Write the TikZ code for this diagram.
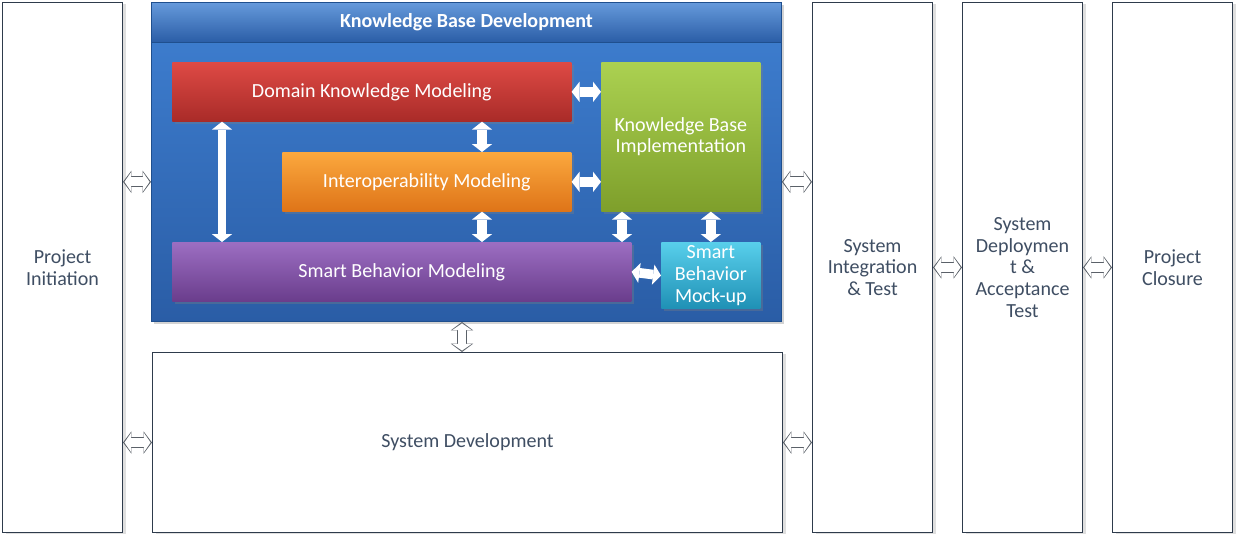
\documentclass[tikz,border=0pt]{standalone}
\usepackage{fontspec}
\setmainfont{Carlito}
\usetikzlibrary{arrows.meta,shadows}
\definecolor{ink}{HTML}{3F4E63}
\definecolor{frame}{HTML}{2E3B4C}
\definecolor{edge}{HTML}{5A6068}
\definecolor{kbblue1}{HTML}{3F80D2}
\definecolor{kbblue2}{HTML}{2A5DA6}
\definecolor{kbline}{HTML}{1F4F8E}
\definecolor{red1}{HTML}{DE4A45}
\definecolor{red2}{HTML}{A92B28}
\definecolor{orange1}{HTML}{FBA83E}
\definecolor{orange2}{HTML}{DE7418}
\definecolor{green1}{HTML}{ABD151}
\definecolor{green2}{HTML}{7E9F2B}
\definecolor{purple1}{HTML}{9C6EC2}
\definecolor{purple2}{HTML}{6A3D8C}
\definecolor{cyan1}{HTML}{58CFEB}
\definecolor{cyan2}{HTML}{1F90B5}

\tikzset{
  phase/.style={draw=frame, line width=0.6pt, fill=white, text=ink, anchor=north west,
    inner sep=2pt, drop shadow={opacity=0.25, shadow xshift=2pt, shadow yshift=-1pt}},
  task/.style={draw=none, text=white, anchor=north west, inner sep=2pt,
    drop shadow={opacity=0.35, shadow xshift=1.5pt, shadow yshift=-1.5pt}},
  blockarrow/.style={draw=white, line width=5.5pt,
    {Triangle[length=4.5pt,width=11.5pt,line width=0pt]}-{Triangle[length=4.5pt,width=11.5pt,line width=0pt]}},
  hollowarrow/.style={draw=white, line width=5pt, shorten <=0.8pt, shorten >=0.8pt,
    {Triangle[length=3.8pt,width=11pt,line width=0pt]}-{Triangle[length=3.8pt,width=11pt,line width=0pt]},
    preaction={draw=edge, line width=6.2pt, shorten <=0pt, shorten >=0pt,
      arrows={Triangle[length=4.8pt,width=12.8pt,line width=0pt]-Triangle[length=4.8pt,width=12.8pt,line width=0pt]}}}
}

\begin{document}
\begin{tikzpicture}[x=0.02cm, y=-0.02cm, align=center, font=\fontsize{11.4}{12.3}\selectfont]
\useasboundingbox (0,0) rectangle (1241,541);

% phases
\node[phase, minimum width=2.4cm, minimum height=10.6cm] (pi) at (2,2) {Project\\Initiation};
\node[phase, minimum width=2.4cm, minimum height=10.6cm] (sit) at (812,2) {System\\Integration\\\& Test};
\node[phase, minimum width=2.4cm, minimum height=10.6cm] (sdat) at (962,2) {System\\Deploymen\\t \&\\Acceptance\\Test};
\node[phase, minimum width=2.4cm, minimum height=10.6cm] (pc) at (1112,2) {Project\\Closure};
\node[phase, minimum width=12.6cm, minimum height=3.6cm] (sd) at (152,352) {System Development};

% knowledge base development
\node[task, draw=kbline, line width=0.6pt, top color=kbblue1, bottom color=kbblue2,
  minimum width=12.6cm, minimum height=6.38cm] (kb) at (151,2) {};
\node[anchor=north west, draw=kbline, line width=0.6pt, top color=kbblue1!80!white, bottom color=kbblue2,
  text=white, font=\fontsize{11.4}{12.3}\selectfont\bfseries,
  minimum width=12.6cm, minimum height=0.8cm] (kbh) at (151,2) {Knowledge Base Development};

\node[task, top color=red1, bottom color=red2, minimum width=7.98cm, minimum height=1.18cm] (dk) at (172,62) {Domain Knowledge Modeling};
\node[task, top color=green1, bottom color=green2, minimum width=3.18cm, minimum height=2.98cm] (kbi) at (601,62) {Knowledge Base\\Implementation};
\node[task, top color=orange1, bottom color=orange2, minimum width=5.78cm, minimum height=1.18cm] (io) at (282,152) {Interoperability Modeling};
\node[task, top color=purple1, bottom color=purple2, minimum width=9.18cm, minimum height=1.18cm] (sbm) at (172,242) {Smart Behavior Modeling};
\node[task, top color=cyan1, bottom color=cyan2, minimum width=1.98cm, minimum height=1.18cm] (sbmu) at (661,242) {Smart\\Behavior\\Mock-up};

% arrows inside
\draw[blockarrow] (dk.east) -- (kbi.west |- dk.east);
\draw[blockarrow] (io.east) -- (kbi.west |- io.east);
\draw[blockarrow] (dk.south -| 482,0) -- (io.north -| 482,0);
\draw[blockarrow] (io.south -| 482,0) -- (sbm.north -| 482,0);
\draw[blockarrow] (kbi.south -| 622,0) -- (sbm.north -| 622,0);
\draw[blockarrow] (kbi.south -| sbmu.north) -- (sbmu.north);
\draw[blockarrow] (sbm.east) -- (sbmu.west);
\draw[blockarrow, line width=4.6pt] (dk.south -| 222,0) -- (sbm.north -| 222,0);

% arrows between phases
\draw[hollowarrow] (pi.east |- io.east) -- (kb.west |- io.east);
\draw[hollowarrow] (kb.east |- io.east) -- (sit.west |- io.east);
\draw[hollowarrow] (pi.east |- sd.west) -- (sd.west);
\draw[hollowarrow] (sd.east) -- (sit.west |- sd.east);
\draw[hollowarrow] (sit.east) -- (sdat.west);
\draw[hollowarrow] (sdat.east) -- (pc.west);
\draw[hollowarrow] (kb.south -| 462,0) -- (sd.north -| 462,0);
\end{tikzpicture}
\end{document}
